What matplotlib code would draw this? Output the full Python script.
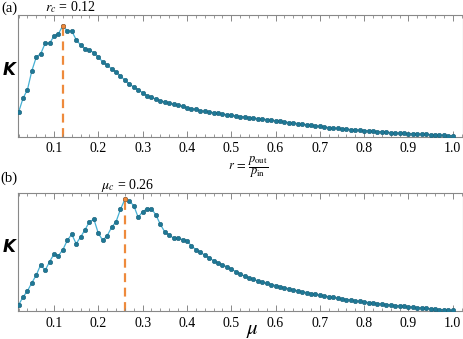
import numpy as np
import matplotlib
matplotlib.use("Agg")
from matplotlib import pyplot as plt
from matplotlib.ticker import MultipleLocator, NullLocator

# x grid of both panels: 0.02 .. 1.00
x_vals = np.round(np.arange(2, 101) / 100, 2)

# panel (a): K vs r (arbitrary units)
kappa_r = [24.2, 38.2, 46.8, 65.8, 79.5, 82.8, 93.2, 93.2, 100.5, 102.8,
           110.8, 105.5, 105.5, 96.8, 91.5, 87.8, 86.5, 83.8, 79.5, 74.5,
           71.2, 67.8, 64.5, 60.5, 56.2, 52.5, 49.5, 46.8, 43.8, 40.8,
           39.2, 37.5, 35.8, 34.5, 33.2, 32.2, 31.2, 30.2, 28.8, 27.8,
           27.2, 25.8, 25.3, 24.5, 23.8, 23.2, 22.5, 21.8, 21.2, 20.6,
           20.0, 19.5, 18.9, 18.4, 17.9, 17.4, 16.9, 16.3, 15.8, 15.2,
           14.6, 14.0, 13.5, 12.9, 12.3, 11.8, 11.2, 10.7, 10.1, 9.6,
           8.9, 8.5, 8.1, 7.7, 7.3, 7.0, 6.6, 6.3, 6.0, 5.6,
           5.3, 5.0, 4.6, 4.2, 3.9, 3.6, 3.4, 3.1, 2.9, 2.7,
           2.5, 2.3, 2.1, 1.8, 1.6, 1.4, 1.2, 1.0, 0.8]

# panel (b): K vs mu (pixel rows, baseline 311)
mu_rows = [305, 297, 291, 282.7, 275, 264.7, 270.3, 261.7, 254, 255.7,
           249.7, 240.3, 234.3, 243.7, 237, 229.7, 221.7, 219.3, 233.3, 240.3,
           235.7, 227.3, 221.7, 209.3, 199.3, 201, 205.7, 217.3, 211.7, 208.7,
           208.7, 215, 224.3, 232, 235, 238.3, 238.3, 239.5, 240.5, 246,
           249.5, 252.3, 255, 257.8, 260.6, 262.7, 264.8, 266.7, 269, 271.5,
           274, 276, 277.7, 279.3, 280.8, 282.2, 283.4, 284.5, 285.5, 286.6,
           287.7, 288.8, 289.8, 290.8, 291.7, 292.6, 293.5, 294.4, 295.3, 296.0,
           296.7, 297.4, 298.1, 298.8, 299.5, 300.1, 300.7, 301.3, 301.9, 302.5,
           303.0, 303.5, 304.0, 304.5, 305.0, 305.5, 306.0, 306.4, 306.8, 307.2,
           307.6, 308.0, 308.4, 308.8, 309.2, 309.5, 309.8, 310.1, 310.4]
kappa_mu = [311 - v for v in mu_rows]

r_c = 0.12
mu_c = 0.26

plt.rcParams['mathtext.fontset'] = 'stix'
plt.rcParams['font.family'] = ['Liberation Serif', 'DejaVu Serif']

W, H = 463, 339
fig = plt.figure(figsize=(W / 100, H / 100), dpi=100)

line_c = '#45b0d4'
dot_c = '#1f7896'
dot_edge = '#185f78'
peak_c = '#ee8a3c'


def px_axes(left, top, right, bottom):
    return fig.add_axes([left / W, 1 - bottom / H, (right - left) / W, (bottom - top) / H])


def draw_panel(ax, xs, ys, xc, ytop):
    ax.plot(xs, ys, '-', color=line_c, lw=0.9, zorder=2)
    ax.plot(xs, ys, 'o', ms=3.2, mfc=dot_c, mec=dot_edge, mew=0.4, zorder=3)
    i = int(np.argmax(ys))
    ax.plot([xc, xc], [0, ys[i]], '--', color=peak_c, lw=1.6, dashes=(4, 2.5), zorder=1)
    ax.plot([xs[i]], [ys[i]], 'o', ms=3.2, mfc=peak_c, mec='#b0602a', mew=0.4, zorder=4)
    ax.set_xlim(0.0187, 1.022)
    ax.set_ylim(0, ytop)
    ax.xaxis.set_major_locator(MultipleLocator(0.1))
    ax.xaxis.set_minor_locator(MultipleLocator(0.02))
    ax.yaxis.set_major_locator(NullLocator())
    ax.tick_params(axis='x', which='both', direction='in', top=True, color='#888888',
                   labelsize=10, pad=4)
    ax.tick_params(axis='x', which='major', length=4, width=0.7)
    ax.tick_params(axis='x', which='minor', length=2.5, width=0.6)
    ax.set_xticks(np.round(np.arange(1, 11) / 10, 1))
    ax.set_xticklabels([f"{v:.1f}" for v in np.arange(1, 11) / 10])
    for s in ax.spines.values():
        s.set_color('#888888')
        s.set_linewidth(0.8)


ax1 = px_axes(18, 15, 462.5, 136.5)
draw_panel(ax1, x_vals, kappa_r, r_c, 121.5)

ax2 = px_axes(18, 192.5, 462.5, 311)
draw_panel(ax2, x_vals, kappa_mu, mu_c, 118.5)


def ftext(x, y, s, **kw):
    fig.text(x / W, 1 - y / H, s, ha='center', va='center', **kw)


ftext(9, 8, '(a)', fontsize=10.5)
ftext(9, 178, '(b)', fontsize=10.5)
ftext(70, 7, r'$r_c$ = 0.12', fontsize=10)
ftext(128, 185, r'$\mu_c$ = 0.26', fontsize=10)
ftext(9, 70, 'K', fontsize=12, style='italic', weight='semibold', family='DejaVu Sans')
ftext(9, 247, 'K', fontsize=12, style='italic', weight='semibold', family='DejaVu Sans')
ftext(248, 167, r'$r\,=\,\dfrac{p_{\mathrm{out}}}{p_{\mathrm{in}}}$', fontsize=9)
ftext(252, 330, r'$\mu$', fontsize=15)

fig.savefig('out.png', dpi=100)
